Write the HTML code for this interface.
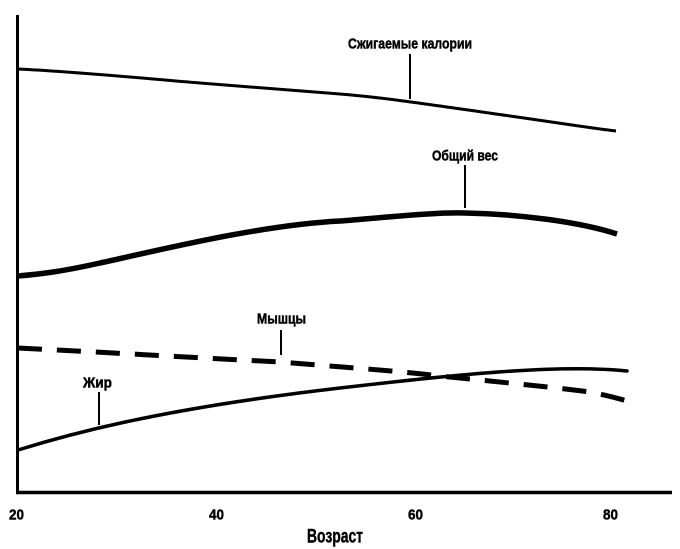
<!DOCTYPE html>
<html>
<head>
<meta charset="utf-8">
<style>
html,body{margin:0;padding:0;background:#fff;}
svg{display:block;}
text{font-family:"Liberation Sans Narrow","Liberation Sans","DejaVu Sans",sans-serif;font-weight:bold;fill:#000;stroke:#000;stroke-width:0.45;}
</style>
</head>
<body>
<svg width="680" height="549" viewBox="0 0 680 549" xmlns="http://www.w3.org/2000/svg">
  <rect width="680" height="549" fill="#fff"/>
  <!-- axes -->
  <line x1="17.5" y1="15" x2="17.5" y2="494" stroke="#000" stroke-width="3"/>
  <line x1="16" y1="492.5" x2="672" y2="492.5" stroke="#000" stroke-width="3.5"/>

  <!-- Calories -->
  <path d="M18,69 C80,72 150,79 200,83 S300,91 340,94 S440,106 510,116 S590,128 616,131" fill="none" stroke="#000" stroke-width="3"/>
  <line x1="410" y1="54" x2="410" y2="99" stroke="#000" stroke-width="2"/>
  <text x="348" y="48.5" font-size="15" textLength="124" lengthAdjust="spacingAndGlyphs">Сжигаемые калории</text>

  <!-- Total weight -->
  <path d="M18,276 C40,274 60,272 100,263 C160,250 260,225 340,221 C400,216 440,212 465,213 C520,214 580,222 617,234" fill="none" stroke="#000" stroke-width="5.5"/>
  <line x1="465" y1="165" x2="465" y2="208" stroke="#000" stroke-width="2"/>
  <text x="432" y="160.5" font-size="15" textLength="66" lengthAdjust="spacingAndGlyphs">Общий вес</text>

  <!-- Muscle (dashed) -->
  <path d="M18,348 C100,352 200,358 280,362 C340,367 400,371 440,376 C500,382 560,388 590,392 C605,395 617,398 627,401" fill="none" stroke="#000" stroke-width="5" stroke-dasharray="24,15"/>
  <line x1="281" y1="330" x2="281" y2="355" stroke="#000" stroke-width="2"/>
  <text x="257" y="323.5" font-size="15" textLength="49" lengthAdjust="spacingAndGlyphs">Мышцы</text>

  <!-- Fat -->
  <path d="M18,450 C60,437 150,410 340,388 C460,374 560,364 627,371" fill="none" stroke="#000" stroke-width="3.5" stroke-linecap="round"/>
  <line x1="99" y1="392" x2="99" y2="425" stroke="#000" stroke-width="2"/>
  <text x="83" y="387.5" font-size="15" textLength="29" lengthAdjust="spacingAndGlyphs">Жир</text>

  <!-- tick labels -->
  <text x="9" y="519.5" font-size="14.5" textLength="15" lengthAdjust="spacingAndGlyphs">20</text>
  <text x="209" y="519.5" font-size="14.5" textLength="15" lengthAdjust="spacingAndGlyphs">40</text>
  <text x="408" y="519.5" font-size="14.5" textLength="15" lengthAdjust="spacingAndGlyphs">60</text>
  <text x="603" y="519.5" font-size="14.5" textLength="15" lengthAdjust="spacingAndGlyphs">80</text>
  <text x="307" y="542.5" font-size="19" textLength="56" lengthAdjust="spacingAndGlyphs">Возраст</text>
</svg>
</body>
</html>
